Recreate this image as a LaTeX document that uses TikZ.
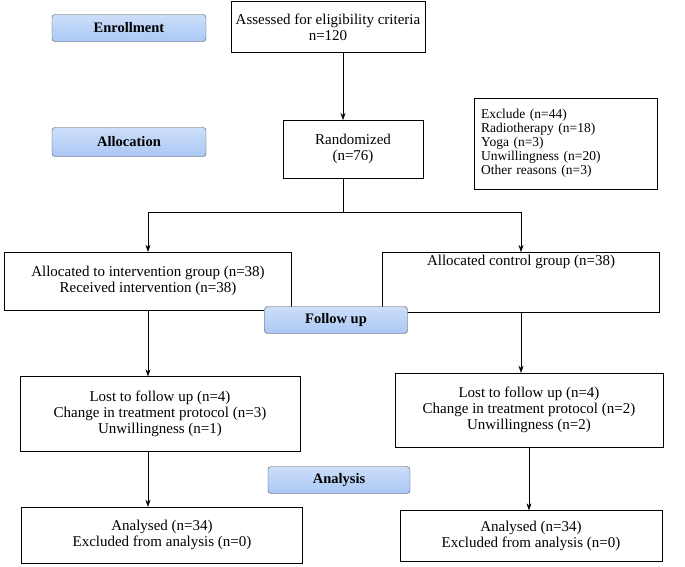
\documentclass[tikz,border=0pt]{standalone}
\usepackage{fontspec}
\setmainfont{Liberation Serif}
\usetikzlibrary{positioning,arrows.meta}
\definecolor{stageblue}{RGB}{170,200,245}
\begin{document}
\begin{tikzpicture}
  [x=1pt,y=-1pt,font=\fontsize{15}{16}\selectfont,>={Stealth[length=7pt,width=5pt]},
   box/.style={draw,align=center,inner sep=2pt},
   stage/.style={draw=black!70,rounded corners=3pt,top color=stageblue!60,bottom color=stageblue,font=\fontsize{14.5}{16}\selectfont\bfseries}]
  \useasboundingbox (0,0) rectangle (685,566);
  % stage labels
  \node[stage,minimum width=154pt,minimum height=27pt] (enrol) at (129,28) {Enrollment};
  \node[stage,minimum width=154pt,minimum height=29pt] (alloc) at (129,142) {Allocation};
  \node[stage,minimum width=142pt,minimum height=27pt] (anal) at (339,480) {Analysis};
  % flow boxes
  \node[box,minimum width=194pt,minimum height=51pt] (assess) at (328,27) {Assessed for eligibility criteria\\n=120};
  \node[box,minimum width=140pt,minimum height=58pt,anchor=north] (rand) at (353,120) {Randomized\\(n=76)};
  \node[box,text width=169pt,minimum height=91pt,anchor=north west,align=left,inner xsep=7pt,font=\fontsize{13.5}{14}\selectfont] (excl) at (474,98)
    {Exclude (n=44)\\Radiotherapy (n=18)\\Yoga (n=3)\\Unwillingness (n=20)\\Other reasons (n=3)};
  \node[box,minimum width=287pt,minimum height=58pt] (intv) at (148,281) {Allocated to intervention group (n=38)\\Received intervention (n=38)};
  \node[box,minimum width=277pt,minimum height=60pt,anchor=north] (ctrl) at (521,252) {\\[-16pt]Allocated control group (n=38)\\[18pt]};
  \node[box,minimum width=280pt,minimum height=75pt] (lostl) at (160,414) {Lost to follow up (n=4)\\Change in treatment protocol (n=3)\\Unwillingness (n=1)};
  \node[box,minimum width=268pt,minimum height=74pt] (lostr) at (529,410) {Lost to follow up (n=4)\\Change in treatment protocol (n=2)\\Unwillingness (n=2)};
  \node[box,minimum width=281pt,minimum height=56pt] (anl) at (162,535) {Analysed (n=34)\\Excluded from analysis (n=0)};
  \node[box,minimum width=262pt,minimum height=51pt] (anr) at (531,536) {Analysed (n=34)\\Excluded from analysis (n=0)};
  \node[stage,minimum width=143pt,minimum height=27pt] (follow) at (336,320) {Follow up};
  \coordinate (split) at (343,212);
  % connectors
  \draw[->] (assess.south -| split) -- (rand.north -| split);
  \draw (rand.south -| split) -- (split);
  \draw[->] (split) -| (intv.north);
  \draw[->] (split) -| (ctrl.north);
  \draw[->] (intv.south) -- (intv.south |- lostl.north);
  \draw[->] (ctrl.south) -- (ctrl.south |- lostr.north);
  \draw[->] (intv.south |- lostl.south) -- (intv.south |- anl.north);
  \draw[->] (lostr.south) -- (lostr.south |- anr.north);
\end{tikzpicture}
\end{document}
